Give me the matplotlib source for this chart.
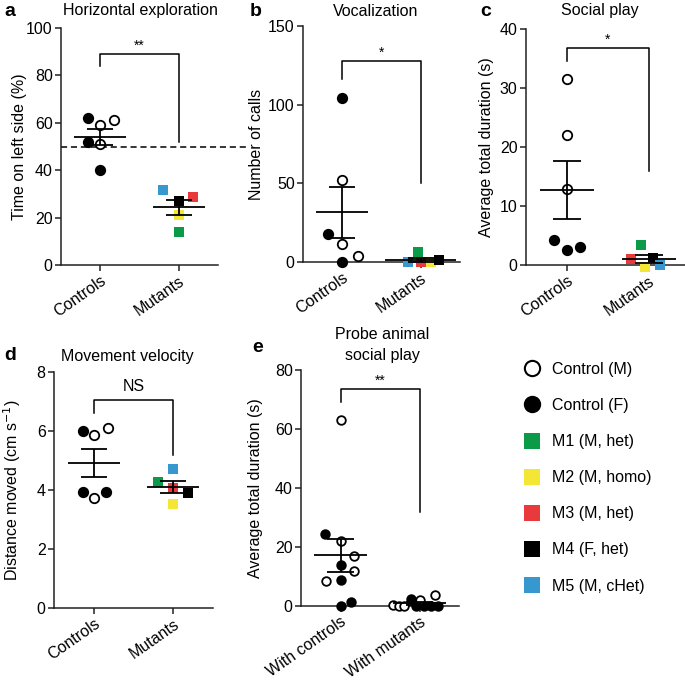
import numpy as np
import matplotlib.pyplot as plt
from matplotlib.lines import Line2D

plt.rcParams['font.family'] = ['Liberation Sans', 'DejaVu Sans']
plt.rcParams['font.size'] = 11.5

W, H = 685, 684

GREEN = '#0a9a48'
YELLOW = '#f4e634'
RED = '#e8393c'
BLACK = '#000000'
BLUE = '#3797cf'
# M1..M5
mutant_colors = [GREEN, YELLOW, RED, BLACK, BLUE]
mutant_labels = ['M1 (M, het)', 'M2 (M, homo)', 'M3 (M, het)', 'M4 (F, het)', 'M5 (M, cHet)']

groups = ['Controls', 'Mutants']
groups_e = ['With controls', 'With mutants']

# a: horizontal exploration
a_ctrl = [62, 52, 40, 61, 59, 51]
a_ctrl_filled = [1, 1, 1, 0, 0, 0]
a_ctrl_dx = [-0.15, -0.15, 0.0, 0.18, 0.0, 0.0]
a_mut = [14, 21, 28.5, 27, 31.5]
a_mut_dx = [0.0, 0.0, 0.18, 0.0, -0.2]

# b: vocalization
b_ctrl = [104, 18, 0, 52, 11.5, 3.5]
b_ctrl_filled = [1, 1, 1, 0, 0, 0]
b_ctrl_dx = [0.0, -0.18, 0.0, 0.0, 0.0, 0.2]
b_mut = [6.2, 0, 0, 1, 0]
b_mut_dx = [-0.04, 0.13, 0.0, 0.23, -0.16]

# c: social play
c_ctrl = [4.3, 2.6, 3.0, 31.5, 22, 12.8]
c_ctrl_filled = [1, 1, 1, 0, 0, 0]
c_ctrl_dx = [-0.16, 0.0, 0.16, 0.0, 0.0, 0.0]
c_mut = [3.4, -0.3, 1.0, 1.2, 0]
c_mut_dx = [-0.1, -0.05, -0.22, 0.05, 0.13]

# d: movement velocity
d_ctrl = [6.0, 3.94, 3.94, 5.86, 6.1, 3.74]
d_ctrl_filled = [1, 1, 1, 0, 0, 0]
d_ctrl_dx = [-0.14, -0.14, 0.15, 0.0, 0.18, 0.0]
d_mut = [4.28, 3.52, 4.07, 3.9, 4.71]
d_mut_dx = [-0.19, 0.0, 0.0, 0.18, 0.0]

# e: probe animal social play
e_ctrl = [24.5, 14, 8.7, 1.5, 0, 63, 22, 17, 12, 8.5]
e_ctrl_filled = [1, 1, 1, 1, 1, 0, 0, 0, 0, 0]
e_ctrl_dx = [-0.2, 0.0, 0.0, 0.13, 0.0, 0.0, 0.0, 0.17, 0.17, -0.18]
e_mut = [2.5, 0, 0, 0, 0, 0.3, 0, 0, 2, 3.8]
e_mut_filled = [1, 1, 1, 1, 1, 0, 0, 0, 0, 0]
e_mut_dx = [-0.11, -0.04, 0.06, 0.14, 0.23, -0.33, -0.26, -0.19, 0.01, 0.19]

fig = plt.figure(figsize=(W / 100, H / 100), dpi=100)


def make_axes(left, top, right, bottom):
    ax = fig.add_axes([left / W, 1 - bottom / H, (right - left) / W, (bottom - top) / H])
    for s in ['top', 'right']:
        ax.spines[s].set_visible(False)
    for s in ['left', 'bottom']:
        ax.spines[s].set_linewidth(1.1)
        ax.spines[s].set_color('#222222')
    ax.tick_params(direction='out', length=4, width=1.1, color='#222222', labelsize=11.5, pad=2)
    ax.set_xlim(-0.5, 1.5)
    ax.patch.set_alpha(0)
    ax._box = (left, right)
    return ax


def ylabel(ax, text, x_px):
    # x_px: pixel position of the label's right edge
    left, right = ax._box
    ax.set_ylabel(text)
    ax.yaxis.set_label_coords((x_px - left) / (right - left), 0.5)


def circles(ax, x, vals, filled, dx, ms=6.8):
    for v, f, d in zip(vals, filled, dx):
        ax.plot(x + d, v, 'o', ms=ms, mfc='k' if f else 'white', mec='k', mew=1.3,
                clip_on=False, zorder=3)


def squares(ax, x, vals, dx, ms=7.6):
    for v, c, d in zip(vals, mutant_colors, dx):
        ax.plot(x + d, v, 's', ms=ms, mfc=c, mec=c, mew=0, clip_on=False, zorder=3)


def mean_sem(ax, x, vals, half=0.33, cap=0.165):
    v = np.asarray(vals, dtype=float)
    m = v.mean()
    s = v.std(ddof=1) / np.sqrt(len(v))
    kw = dict(color='k', lw=1.3, zorder=5, clip_on=False, solid_capstyle='butt')
    ax.plot([x - half, x + half], [m, m], **kw)
    ax.plot([x, x], [m - s, m + s], **kw)
    ax.plot([x - cap, x + cap], [m + s, m + s], **kw)
    ax.plot([x - cap, x + cap], [m - s, m - s], **kw)


def bracket(ax, y_left, y_top, y_right, text, text_y, fs=10):
    ax.plot([0, 0, 1, 1], [y_left, y_top, y_top, y_right], color='k', lw=1.1, clip_on=False)
    ax.text(0.5, text_y, text, ha='center', va='bottom', fontsize=fs)


def xlabels(ax, labels):
    ax.set_xticks([0, 1])
    ax.set_xticklabels(labels, rotation=35, ha='right', va='top', rotation_mode='anchor')


def title(x, y, letter, lx, text):
    fig.text(lx / W, 1 - y / H, letter, fontsize=14, fontweight='bold', ha='left', va='center')
    fig.text(x / W, 1 - y / H, text, fontsize=11.5, ha='center', va='center')


# panel a
ax = make_axes(61, 28, 218, 265)
ax.set_ylim(0, 100)
ax.set_yticks([0, 20, 40, 60, 80, 100])
ax.plot([-0.5, 1.88], [50, 50], color='k', lw=1.1, ls=(0, (4, 2.5)), clip_on=False, zorder=2)
circles(ax, 0, a_ctrl, a_ctrl_filled, a_ctrl_dx)
squares(ax, 1, a_mut, a_mut_dx)
mean_sem(ax, 0, a_ctrl)
mean_sem(ax, 1, a_mut)
bracket(ax, 84, 89, 52, '**', 89.5)
ylabel(ax, 'Time on left side (%)', 27)
xlabels(ax, groups)
title(140, 11, 'a', 4, 'Horizontal exploration')

# panel b
ax = make_axes(303, 26, 460, 262)
ax.set_ylim(0, 150)
ax.set_yticks([0, 50, 100, 150])
circles(ax, 0, b_ctrl, b_ctrl_filled, b_ctrl_dx)
squares(ax, 1, b_mut, b_mut_dx)
mean_sem(ax, 0, b_ctrl)
mean_sem(ax, 1, b_mut, half=0.45)
bracket(ax, 116, 128, 50, '*', 128.5)
ylabel(ax, 'Number of calls', 264)
xlabels(ax, groups)
title(376, 11, 'b', 250, 'Vocalization')

# panel c
ax = make_axes(526, 29, 690, 265)
ax.set_ylim(0, 40)
ax.set_yticks([0, 10, 20, 30, 40])
circles(ax, 0, c_ctrl, c_ctrl_filled, c_ctrl_dx)
squares(ax, 1, c_mut, c_mut_dx)
mean_sem(ax, 0, c_ctrl)
mean_sem(ax, 1, c_mut)
bracket(ax, 34.6, 36.8, 16, '*', 37.0)
ylabel(ax, 'Average total duration (s)', 494)
xlabels(ax, groups)
title(600, 11, 'c', 480, 'Social play')

# panel d
ax = make_axes(54, 372, 213, 608)
ax.set_ylim(0, 8)
ax.set_yticks([0, 2, 4, 6, 8])
circles(ax, 0, d_ctrl, d_ctrl_filled, d_ctrl_dx)
squares(ax, 1, d_mut, d_mut_dx)
mean_sem(ax, 0, d_ctrl)
mean_sem(ax, 1, d_mut)
bracket(ax, 6.6, 7.05, 5.2, 'NS', 7.25, fs=11.5)
ylabel(ax, 'Distance moved (cm s$^{-1}$)', 23)
xlabels(ax, groups)
title(127, 356, 'd', 4, 'Movement velocity')

# panel e
ax = make_axes(301, 370, 459, 606)
ax.set_ylim(0, 80)
ax.set_yticks([0, 20, 40, 60, 80])
circles(ax, 0, e_ctrl, e_ctrl_filled, e_ctrl_dx, ms=6.2)
circles(ax, 1, e_mut, e_mut_filled, e_mut_dx, ms=6.2)
mean_sem(ax, 0, e_ctrl)
mean_sem(ax, 1, e_mut)
bracket(ax, 69.3, 73.5, 32, '**', 74)
ylabel(ax, 'Average total duration (s)', 263)
xlabels(ax, groups_e)
fig.text(382 / W, 1 - 345 / H, 'Probe animal\nsocial play', fontsize=11.5, ha='center', va='center',
         linespacing=1.5)
fig.text(252 / W, 1 - 348 / H, 'e', fontsize=14, fontweight='bold', ha='left', va='center')

# legend
handles = [
    Line2D([], [], ls='none', marker='o', ms=11, mfc='white', mec='k', mew=1.5),
    Line2D([], [], ls='none', marker='o', ms=11.5, mfc='k', mec='k'),
]
labels = ['Control (M)', 'Control (F)']
for c, lab in zip(mutant_colors, mutant_labels):
    handles.append(Line2D([], [], ls='none', marker='s', ms=11.5, mfc=c, mec=c, mew=0))
    labels.append(lab)
fig.legend(handles, labels, loc='upper left', bbox_to_anchor=(524 / W, 1 - 362 / H),
           frameon=False, fontsize=11.5, handlelength=1.0, handletextpad=0.75,
           labelspacing=1.32, borderpad=0, borderaxespad=0)

fig.savefig('out.png', dpi=100)
